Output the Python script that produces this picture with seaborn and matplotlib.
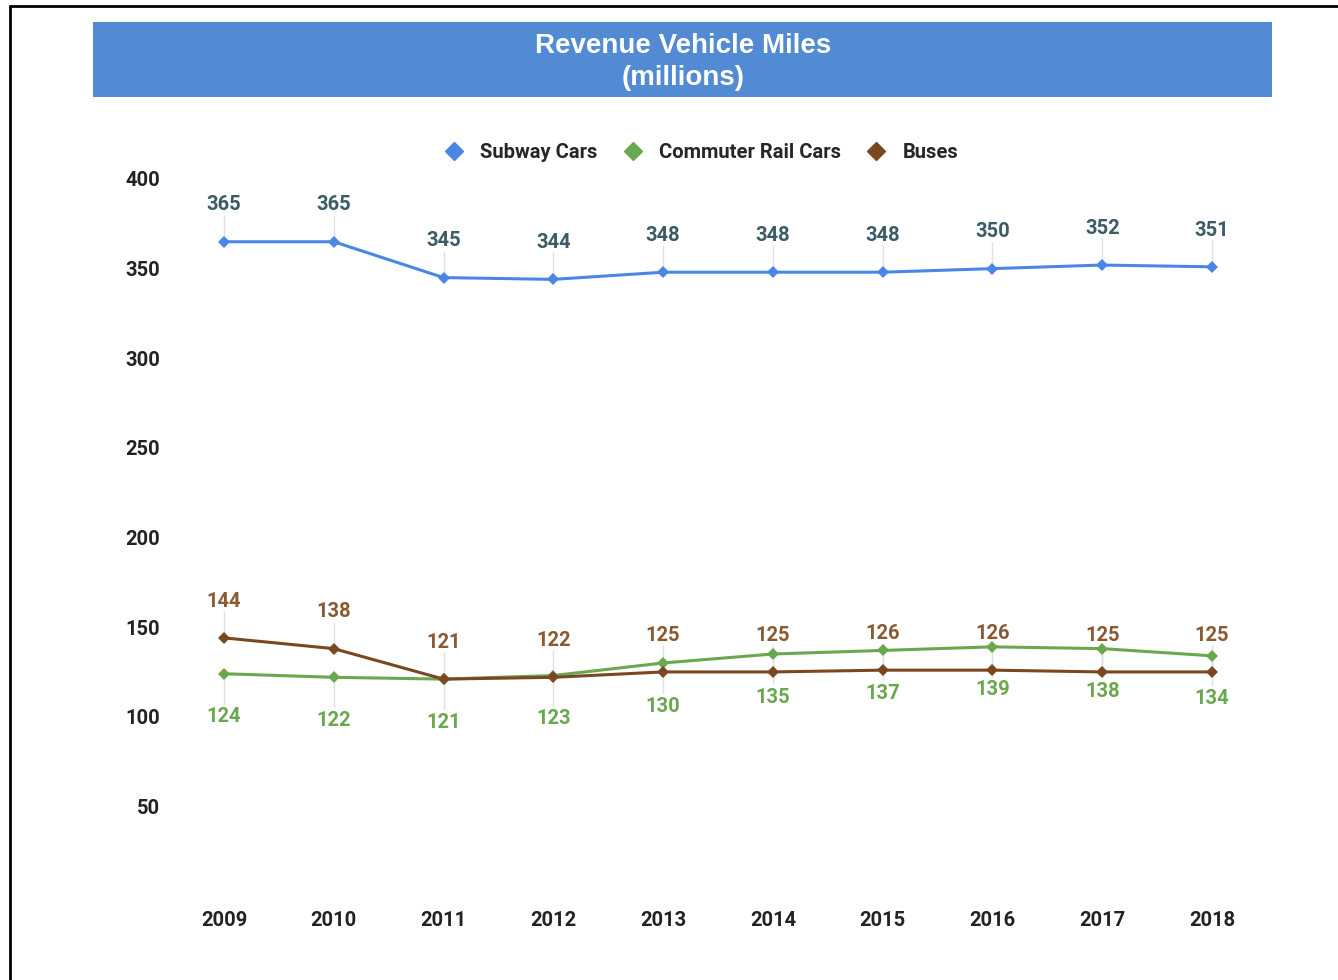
import matplotlib.pyplot as plt
import matplotlib.patches as patches
import matplotlib.lines as mlines
import pandas as pd
import seaborn as sns

years = [2009, 2010, 2011, 2012, 2013, 2014, 2015, 2016, 2017, 2018]
subway = [365, 365, 345, 344, 348, 348, 348, 350, 352, 351]
commuter = [124, 122, 121, 123, 130, 135, 137, 139, 138, 134]
buses = [144, 138, 121, 122, 125, 125, 126, 126, 125, 125]
series_names = ['Subway Cars', 'Commuter Rail Cars', 'Buses']
y_ticks = [50, 100, 150, 200, 250, 300, 350, 400]

line_colors = {'Subway Cars': '#4a86e8', 'Commuter Rail Cars': '#6aa84f', 'Buses': '#7a4820'}
label_colors = {'Subway Cars': '#3b5b66', 'Commuter Rail Cars': '#6aa84f', 'Buses': '#8b5a32'}

df = pd.DataFrame({
    'year': years * 3,
    'miles': subway + commuter + buses,
    'series': [s for s in series_names for _ in years],
})

sns.set_theme(style='white')
plt.rcParams['font.family'] = ['Roboto', 'DejaVu Sans']

W, H = 1338, 980
fig = plt.figure(figsize=(W / 100, H / 100), dpi=100)
fig.patch.set_facecolor('white')

# axes placed so 2009 -> x=224px, 2018 -> 1212px, y=400 -> 179px, y=0 -> 896px
ax_left, ax_right = 169.1, 1266.9
ax_top, ax_bottom = 179, 896
ax = fig.add_axes([ax_left / W, 1 - ax_bottom / H, (ax_right - ax_left) / W, (ax_bottom - ax_top) / H])

sns.lineplot(data=df, x='year', y='miles', hue='series', hue_order=series_names,
             palette=line_colors, style='series', markers={s: 'D' for s in series_names},
             dashes=False, markersize=6, markeredgewidth=0, linewidth=2.2, ax=ax, legend=False)

ax.set_xlim(2008.5, 2018.5)
ax.set_ylim(0, 400)
ax.set_xticks(years)
ax.set_xticklabels([str(y) for y in years], fontsize=14.5, fontweight='bold', color='#222222')
ax.set_yticks(y_ticks)
ax.set_yticklabels([str(v) for v in y_ticks], fontsize=14.5, fontweight='bold', color='#222222')
ax.tick_params(axis='x', length=0, pad=11)
ax.tick_params(axis='y', length=0, pad=6.5)
ax.set_xlabel('')
ax.set_ylabel('')
for sp in ax.spines.values():
    sp.set_visible(False)

# data labels with faint leader lines
px = 400 / (ax_bottom - ax_top)
for name, vals, direction in [('Subway Cars', subway, 1), ('Buses', buses, 1), ('Commuter Rail Cars', commuter, -1)]:
    for x, v in zip(years, vals):
        if direction > 0:
            ax.vlines(x, v, v + 27 * px, color='#e0e0e0', lw=1, zorder=0)
            ax.annotate(str(v), (x, v), xytext=(0, 26.5), textcoords='offset points',
                        ha='center', va='center', fontsize=14.5, fontweight='bold',
                        color=label_colors[name])
        else:
            ax.vlines(x, v - 30 * px, v, color='#e0e0e0', lw=1, zorder=0)
            ax.annotate(str(v), (x, v), xytext=(0, -31), textcoords='offset points',
                        ha='center', va='center', fontsize=14.5, fontweight='bold',
                        color=label_colors[name])

# legend
handles = [mlines.Line2D([], [], color=line_colors[s], marker='D', linestyle='none', markersize=9)
           for s in series_names]
fig.legend(handles, series_names, loc='center', bbox_to_anchor=(696 / W, 1 - 153 / H), ncol=3,
           frameon=False, prop={'size': 14.5, 'weight': 'bold'}, handletextpad=0.3, columnspacing=0.75)

# title banner
fig.patches.append(patches.Rectangle((93 / W, 1 - 97 / H), (1272 - 93) / W, (97 - 22) / H,
                                     transform=fig.transFigure, facecolor='#528bd4', edgecolor='none', zorder=0))
fig.text(683 / W, 1 - 62 / H, 'Revenue Vehicle Miles\n(millions)', ha='center', va='center',
         color='white', fontsize=20, fontweight='bold', family=['Liberation Sans', 'DejaVu Sans'],
         linespacing=1.3)

# outer frame (left and top edges visible)
fig.add_artist(mlines.Line2D([10 / W, 10 / W], [0, 1 - 6 / H], transform=fig.transFigure, color='black', lw=2))
fig.add_artist(mlines.Line2D([10 / W, 1], [1 - 6 / H, 1 - 6 / H], transform=fig.transFigure, color='black', lw=2))

fig.savefig('out.png', dpi=100)
